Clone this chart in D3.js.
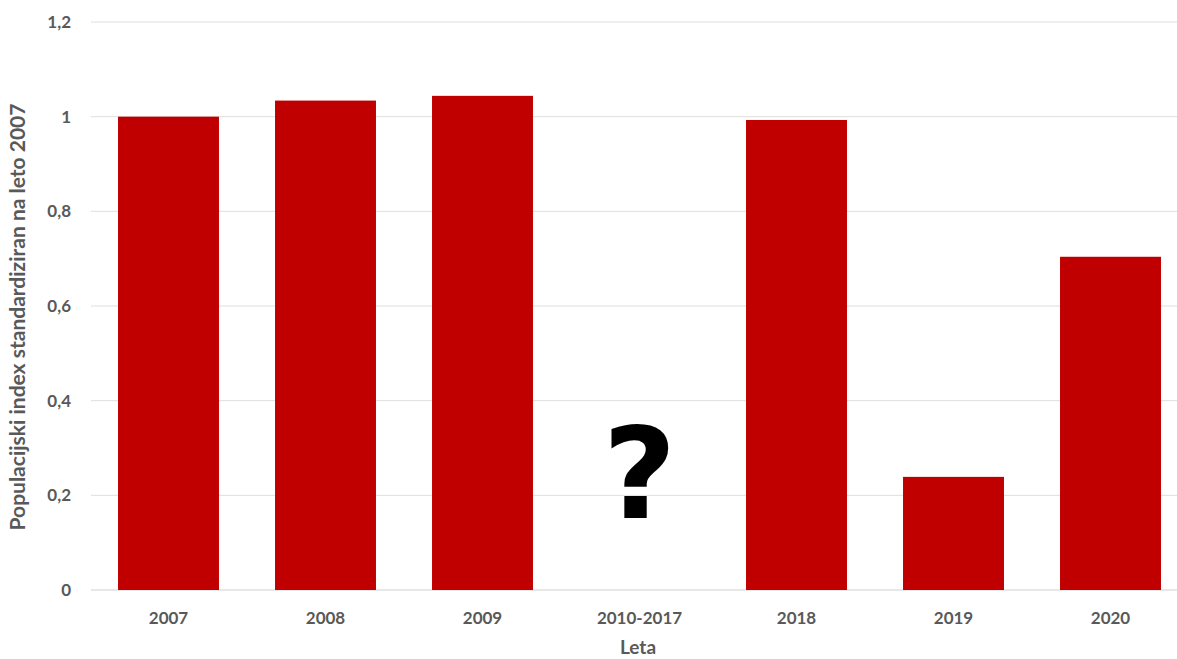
<!DOCTYPE html>
<html>
<head>
<meta charset="utf-8">
<script src="https://cdn.jsdelivr.net/npm/d3@7"></script>
<style>
  body { margin: 0; background: #fff; }
  text { font-family: Lato, "Open Sans", sans-serif; font-weight: bold; fill: #595959; }
</style>
</head>
<body>
<div id="chart"></div>
<script>
const categories = ['2007', '2008', '2009', '2010-2017', '2018', '2019', '2020'];
const values = [1.0, 1.034, 1.044, null, 0.993, 0.239, 0.704];
const yTicks = [0, 0.2, 0.4, 0.6, 0.8, 1, 1.2];
const missingLabel = '?';

const width = 1177;
const height = 659;

const svg = d3.select('#chart').append('svg')
  .attr('width', width)
  .attr('height', height);

const x = d3.scaleBand()
  .domain(categories)
  .range([90, 1189])
  .paddingInner(0.357)
  .paddingOuter(0.1785);

const y = d3.scaleLinear()
  .domain([0, 1.2])
  .range([590, 22]);

const fmt = d => String(d).replace('.', ',');

// gridlines
svg.append('g')
  .selectAll('line')
  .data(yTicks)
  .join('line')
  .attr('x1', 91)
  .attr('x2', width)
  .attr('y1', d => y(d))
  .attr('y2', d => y(d))
  .attr('stroke', d => d === 0 ? '#d0d0d0' : '#dedede')
  .attr('stroke-width', 1);

// y labels
svg.append('g')
  .selectAll('text')
  .data(yTicks)
  .join('text')
  .attr('x', 71)
  .attr('y', d => y(d))
  .attr('dy', '0.35em')
  .attr('text-anchor', 'end')
  .style('font-size', '17px')
  .text(fmt);

// bars
svg.append('g')
  .selectAll('rect')
  .data(categories.map((c, i) => ({ c, v: values[i] })).filter(d => d.v != null))
  .join('rect')
  .attr('x', d => x(d.c))
  .attr('width', x.bandwidth())
  .attr('y', d => y(d.v))
  .attr('height', d => y(0) - y(d.v))
  .attr('fill', '#c00000');

// x labels
svg.append('g')
  .selectAll('text')
  .data(categories)
  .join('text')
  .attr('x', d => x(d) + x.bandwidth() / 2)
  .attr('y', 624)
  .attr('text-anchor', 'middle')
  .style('font-size', '17px')
  .text(d => d);

// missing data marker
svg.append('text')
  .attr('x', x('2010-2017') + x.bandwidth() / 2)
  .attr('y', 518)
  .attr('text-anchor', 'middle')
  .style('font-family', '"DejaVu Sans", sans-serif')
  .style('font-size', '127px')
  .style('fill', '#000')
  .text(missingLabel);

// axis titles
svg.append('text')
  .attr('x', 638)
  .attr('y', 654)
  .attr('text-anchor', 'middle')
  .style('font-size', '19px')
  .text('Leta');

svg.append('text')
  .attr('transform', `translate(25,317) rotate(-90)`)
  .attr('text-anchor', 'middle')
  .style('font-size', '21px')
  .text('Populacijski index standardiziran na leto 2007');
</script>
</body>
</html>
